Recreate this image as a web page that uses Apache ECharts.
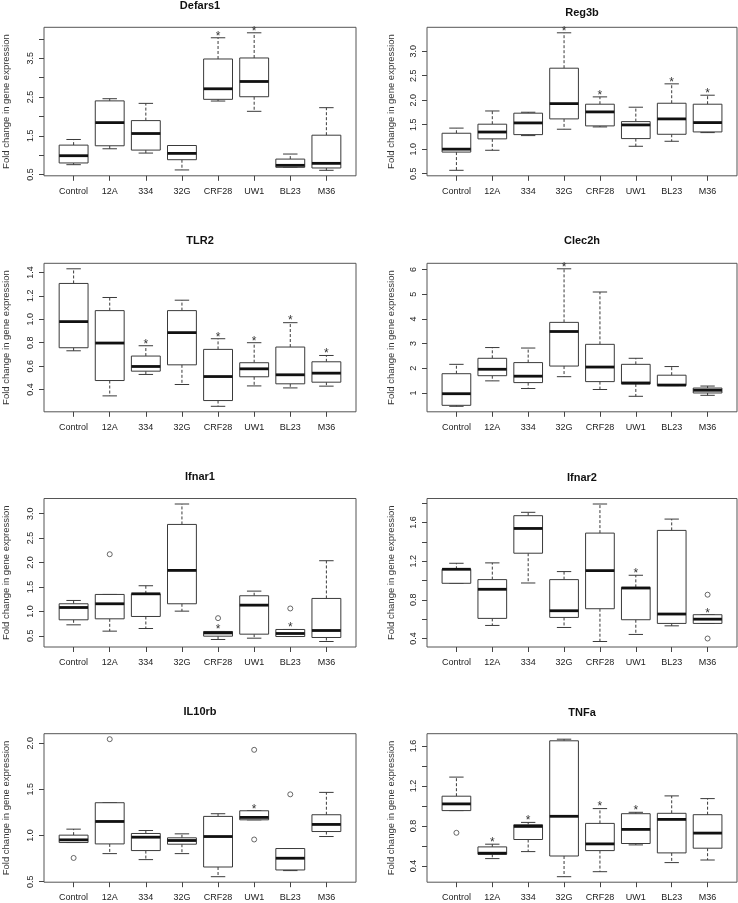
<!DOCTYPE html>
<html><head><meta charset="utf-8">
<script src="https://cdn.jsdelivr.net/npm/echarts@6/dist/echarts.min.js"></script>
<style>html,body{margin:0;padding:0;background:#fff}#c{width:738px;height:903px}</style>
</head><body><div id="c"></div>
<script>
const categories = ['Control','12A','334','32G','CRF28','UW1','BL23','M36'];
const yAxisTitle = 'Fold change in gene expression';

// rows: [lower whisker, Q1, median, Q3, upper whisker]
const defars1Stats = [[0.756,0.80,0.987,1.26,1.405],[1.166,1.243,1.84,2.40,2.456],[1.055,1.132,1.559,1.892,2.336],[0.62,0.884,1.047,1.25,1.25],[2.396,2.44,2.712,3.48,4.027],[2.131,2.507,2.90,3.506,4.155],[0.688,0.688,0.739,0.90,1.03],[0.611,0.671,0.79,1.516,2.225]];
const defars1Stars = ['CRF28','UW1'];
const defars1Outliers = [];
const defars1Ticks = [0.5,1.0,1.5,2.0,2.5,3.0,3.5,4.0];
const defars1Labels = ['0.5','1.5','2.5','3.5'];

const reg3bStats = [[0.568,0.94,1.0,1.325,1.43],[0.977,1.21,1.35,1.51,1.78],[1.277,1.297,1.536,1.735,1.754],[1.407,1.618,1.93,2.654,3.377],[1.454,1.475,1.761,1.918,2.068],[1.059,1.216,1.495,1.563,1.857],[1.161,1.304,1.618,1.938,2.334],[1.338,1.352,1.543,1.918,2.102]];
const reg3bStars = ['32G','CRF28','BL23','M36'];
const reg3bOutliers = [];
const reg3bTicks = [0.5,1.0,1.5,2.0,2.5,3.0,3.5];
const reg3bLabels = ['0.5','1.0','1.5','2.0','2.5','3.0','3.5'];

const tlr2Stats = [[0.731,0.757,0.98,1.306,1.431],[0.346,0.477,0.797,1.074,1.186],[0.529,0.557,0.597,0.686,0.774],[0.443,0.611,0.886,1.074,1.163],[0.257,0.306,0.511,0.743,0.834],[0.431,0.509,0.577,0.629,0.80],[0.414,0.449,0.526,0.763,0.971],[0.429,0.463,0.54,0.637,0.691]];
const tlr2Stars = ['334','CRF28','UW1','BL23','M36'];
const tlr2Outliers = [];
const tlr2Ticks = [0.4,0.6,0.8,1.0,1.2,1.4];
const tlr2Labels = ['0.4','0.6','0.8','1.0','1.2','1.4'];

const clec2hStats = [[0.46,0.5,0.97,1.78,2.16],[1.49,1.70,1.96,2.405,2.84],[1.18,1.42,1.68,2.23,2.82],[1.66,2.09,3.49,3.86,6.03],[1.14,1.46,2.05,2.97,5.09],[0.865,1.365,1.405,2.16,2.405],[1.3,1.3,1.32,1.72,2.07],[0.905,1.0,1.11,1.2,1.28]];
const clec2hStars = ['32G'];
const clec2hOutliers = [];
const clec2hTicks = [1,2,3,4,5,6];
const clec2hLabels = ['1','2','3','4','5','6'];

const ifnar1Stats = [[0.725,0.828,1.08,1.156,1.224],[0.596,0.848,1.156,1.347,1.347],[0.65,0.896,1.36,1.36,1.525],[1.005,1.156,1.839,2.78,3.198],[0.425,0.493,0.56,0.589,0.589],[0.452,0.534,1.128,1.32,1.415],[0.486,0.486,0.548,0.63,0.63],[0.384,0.466,0.609,1.265,2.037]];
const ifnar1Stars = ['CRF28','BL23'];
const ifnar1Outliers = [['12A',2.17],['CRF28',0.862],['BL23',1.06]];
const ifnar1Ticks = [0.5,1.0,1.5,2.0,2.5,3.0];
const ifnar1Labels = ['0.5','1.0','1.5','2.0','2.5','3.0'];

const ifnar2Stats = [[0.971,0.971,1.116,1.116,1.178],[0.535,0.608,0.909,1.009,1.182],[0.974,1.282,1.538,1.67,1.705],[0.514,0.618,0.687,1.009,1.092],[0.369,0.708,1.102,1.49,1.791],[0.442,0.594,0.922,0.929,1.054],[0.531,0.556,0.653,1.518,1.635],[0.556,0.556,0.60,0.646,0.646]];
const ifnar2Stars = ['UW1','M36'];
const ifnar2Outliers = [['M36',0.853],['M36',0.40]];
const ifnar2Ticks = [0.4,0.6,0.8,1.0,1.2,1.4,1.6,1.8];
const ifnar2Labels = ['0.4','0.8','1.2','1.6'];

const il10rbStats = [[0.924,0.924,0.953,1.004,1.069],[0.804,0.909,1.152,1.355,1.355],[0.739,0.837,0.982,1.022,1.054],[0.804,0.906,0.946,0.975,1.018],[0.554,0.659,0.989,1.207,1.236],[1.17,1.17,1.196,1.268,1.268],[0.62,0.627,0.754,0.859,0.859],[0.989,1.043,1.12,1.225,1.467]];
const il10rbStars = ['UW1'];
const il10rbOutliers = [['Control',0.757],['12A',2.043],['UW1',1.928],['UW1',0.957],['BL23',1.446]];
const il10rbTicks = [0.5,1.0,1.5,2.0];
const il10rbLabels = ['0.5','1.0','1.5','2.0'];

const tnfaStats = [[0.954,0.954,1.021,1.098,1.289],[0.474,0.517,0.528,0.591,0.618],[0.544,0.665,0.796,0.813,0.836],[0.293,0.50,0.897,1.652,1.668],[0.343,0.554,0.621,0.826,0.974],[0.611,0.625,0.766,0.923,0.937],[0.434,0.531,0.866,0.927,1.101],[0.46,0.578,0.729,0.913,1.074]];
const tnfaStars = ['12A','334','CRF28','UW1'];
const tnfaOutliers = [['Control',0.732]];
const tnfaTicks = [0.4,0.6,0.8,1.0,1.2,1.4,1.6];
const tnfaLabels = ['0.4','0.8','1.2','1.6'];

const panels = [
  {name:'Defars1', stats:defars1Stats, stars:defars1Stars, outliers:defars1Outliers, ticks:defars1Ticks, labels:defars1Labels},
  {name:'Reg3b', stats:reg3bStats, stars:reg3bStars, outliers:reg3bOutliers, ticks:reg3bTicks, labels:reg3bLabels},
  {name:'TLR2', stats:tlr2Stats, stars:tlr2Stars, outliers:tlr2Outliers, ticks:tlr2Ticks, labels:tlr2Labels},
  {name:'Clec2h', stats:clec2hStats, stars:clec2hStars, outliers:clec2hOutliers, ticks:clec2hTicks, labels:clec2hLabels},
  {name:'Ifnar1', stats:ifnar1Stats, stars:ifnar1Stars, outliers:ifnar1Outliers, ticks:ifnar1Ticks, labels:ifnar1Labels},
  {name:'Ifnar2', stats:ifnar2Stats, stars:ifnar2Stars, outliers:ifnar2Outliers, ticks:ifnar2Ticks, labels:ifnar2Labels},
  {name:'IL10rb', stats:il10rbStats, stars:il10rbStars, outliers:il10rbOutliers, ticks:il10rbTicks, labels:il10rbLabels},
  {name:'TNFa', stats:tnfaStats, stars:tnfaStars, outliers:tnfaOutliers, ticks:tnfaTicks, labels:tnfaLabels}
];

// layout (pixels)
const colLeft = [44, 427];
const colWidth = [312, 310];
const rowTop = [27.3, 263.3, 498.5, 733.7];
const plotHeight = 148.5;
const titleY = [[5.5, 13], [241, 241], [476.5, 477.5], [712, 712.5]];
const nameGap = [33, 31];

const FONT = '"Liberation Sans", Arial, Helvetica, sans-serif';
const LINE = '#3a3a3a';
const xPositions = categories.map((c, i) => i + 1);

const grids = [], xAxes = [], yAxes = [], series = [], graphics = [];

panels.forEach((p, k) => {
  const col = k % 2, row = Math.floor(k / 2);
  const left = colLeft[col], width = colWidth[col], top = rowTop[row];
  // R-style range: data extent padded by 4%
  let lo = Infinity, hi = -Infinity;
  p.stats.forEach(s => { lo = Math.min(lo, s[0]); hi = Math.max(hi, s[4]); });
  p.outliers.forEach(o => { lo = Math.min(lo, o[1]); hi = Math.max(hi, o[1]); });
  const pad = (hi - lo) * 0.04;

  grids.push({left: left, top: top, width: width, height: plotHeight, show: true,
    borderColor: '#555', borderWidth: 1, backgroundColor: 'transparent'});
  xAxes.push({gridIndex: k, type: 'value', min: 0.5 - 0.32, max: 8.5 + 0.32,
    splitLine: {show: false}, axisLine: {show: false},
    axisTick: {show: true, customValues: xPositions, length: 5, lineStyle: {color: '#444'}},
    axisLabel: {customValues: xPositions, formatter: v => categories[Math.round(v) - 1],
      fontSize: 9, color: '#222', margin: 11, fontFamily: FONT}});
  const labelVals = p.labels.map(Number);
  yAxes.push({gridIndex: k, type: 'value', min: lo - pad, max: hi + pad,
    splitLine: {show: false}, axisLine: {show: false},
    axisTick: {show: true, customValues: p.ticks, length: 5, lineStyle: {color: '#444'}},
    axisLabel: {customValues: labelVals, rotate: 90, margin: 9, fontSize: 9, color: '#222', fontFamily: FONT,
      formatter: v => { const i = labelVals.findIndex(t => Math.abs(t - v) < 1e-9); return i >= 0 ? p.labels[i] : ''; }},
    name: yAxisTitle, nameLocation: 'middle', nameGap: nameGap[col],
    nameTextStyle: {fontSize: 9.5, color: '#333', fontFamily: FONT}});

  const data = p.stats.map((s, i) => [i + 1, s[0], s[1], s[2], s[3], s[4], p.stars.includes(categories[i]) ? 1 : 0]);
  series.push({type: 'custom', xAxisIndex: k, yAxisIndex: k, clip: false, silent: true,
    encode: {x: 0, y: [1, 2, 3, 4, 5]},
    renderItem: (params, api) => {
      const x = api.value(0);
      const pLo = api.coord([x, api.value(1)]);
      const pQ1 = api.coord([x, api.value(2)]);
      const pMd = api.coord([x, api.value(3)]);
      const pQ3 = api.coord([x, api.value(4)]);
      const pHi = api.coord([x, api.value(5)]);
      const hw = api.size([0.8, 0])[0] / 2;
      const cw = hw / 2;
      const cx = pLo[0];
      const dash = {stroke: LINE, lineWidth: 1, lineDash: [3, 2]};
      const solid = {stroke: LINE, lineWidth: 1};
      const children = [
        {type: 'line', shape: {x1: cx, y1: pQ3[1], x2: cx, y2: pHi[1]}, style: dash},
        {type: 'line', shape: {x1: cx, y1: pQ1[1], x2: cx, y2: pLo[1]}, style: dash},
        {type: 'line', shape: {x1: cx - cw, y1: pHi[1], x2: cx + cw, y2: pHi[1]}, style: solid},
        {type: 'line', shape: {x1: cx - cw, y1: pLo[1], x2: cx + cw, y2: pLo[1]}, style: solid},
        {type: 'rect', shape: {x: cx - hw, y: pQ3[1], width: 2 * hw, height: pQ1[1] - pQ3[1]},
          style: {fill: '#fff', stroke: LINE, lineWidth: 1}},
        {type: 'line', shape: {x1: cx - hw, y1: pMd[1], x2: cx + hw, y2: pMd[1]},
          style: {stroke: '#111', lineWidth: 2.8}}
      ];
      if (api.value(6)) {
        children.push({type: 'text', x: cx, y: pHi[1] - 1.5,
          style: {text: '*', fontSize: 12, fontFamily: FONT, fill: '#333',
            align: 'center', verticalAlign: 'middle', textAlign: 'center', textVerticalAlign: 'middle'}});
      }
      return {type: 'group', children: children};
    },
    data: data});
  if (p.outliers.length) {
    series.push({type: 'scatter', xAxisIndex: k, yAxisIndex: k, silent: true,
      symbol: 'circle', symbolSize: 5,
      itemStyle: {color: '#fff', borderColor: '#444', borderWidth: 1},
      data: p.outliers.map(o => [categories.indexOf(o[0]) + 1, o[1]])});
  }
  graphics.push({type: 'text', x: left + width / 2, y: titleY[row][col],
    style: {text: p.name, fontSize: 11, fontWeight: 'bold', fontFamily: FONT, fill: '#111',
      align: 'center', verticalAlign: 'middle', textAlign: 'center', textVerticalAlign: 'middle'}});
});

const chart = echarts.init(document.getElementById('c'), null, {renderer: 'canvas'});
chart.setOption({
  animation: false,
  backgroundColor: '#fff',
  grid: grids, xAxis: xAxes, yAxis: yAxes, series: series, graphic: graphics
});
</script></body></html>
